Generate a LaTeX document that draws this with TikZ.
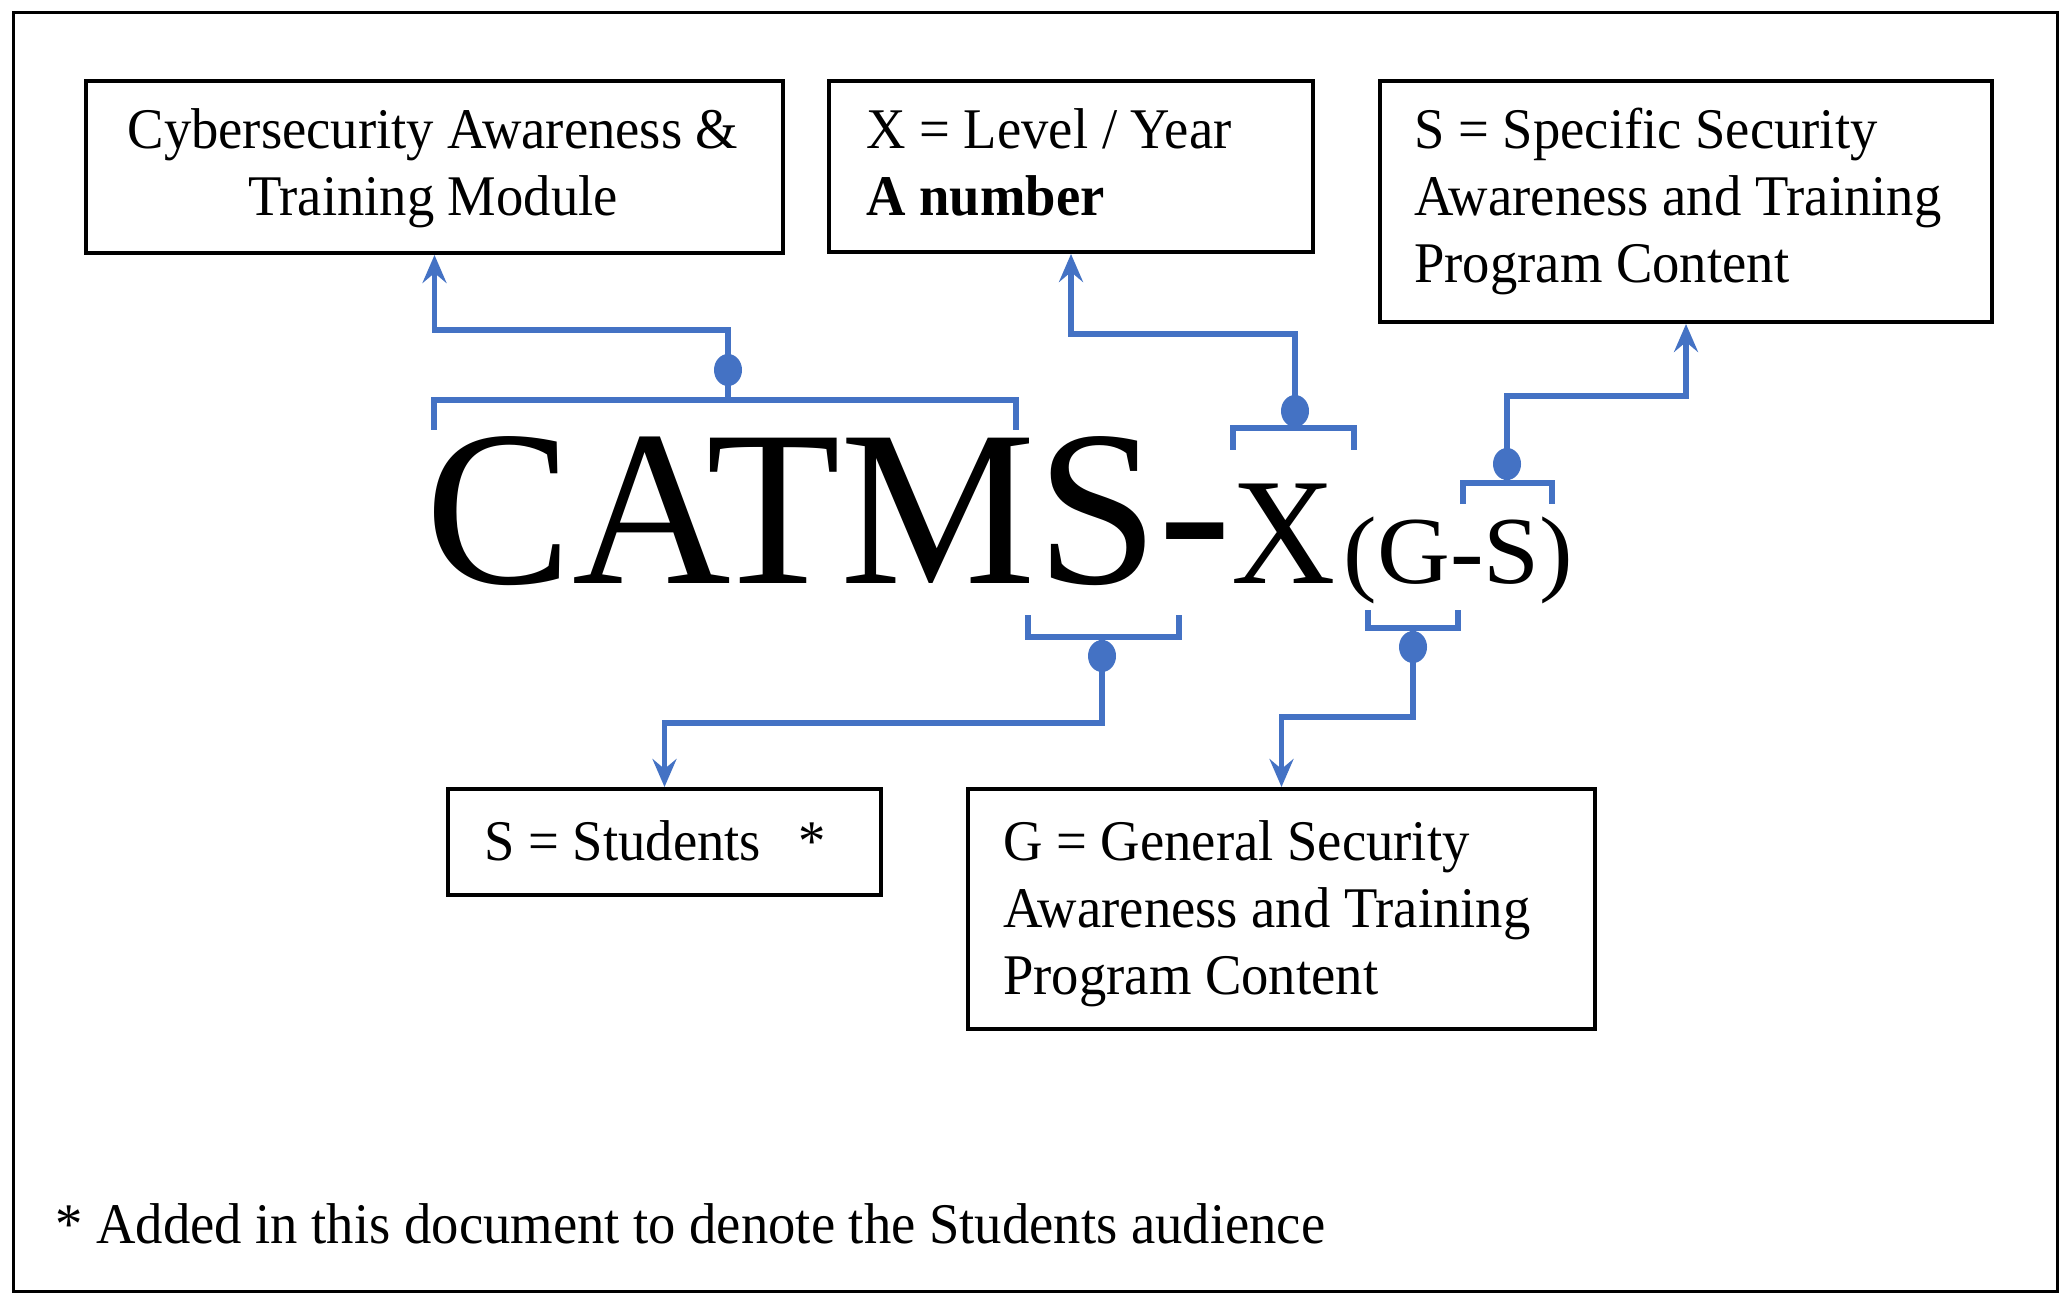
\documentclass[tikz,border=0pt]{standalone}
\usepackage{fontspec}
\setmainfont{Liberation Serif}[FakeStretch=0.95]
\newfontfamily\bigfont{Liberation Serif}[FakeStretch=0.99]
\newfontfamily\subfont{Liberation Serif}[FakeStretch=1.05]
\usetikzlibrary{arrows.meta,calc}
\definecolor{cblue}{RGB}{68,114,196}
\begin{document}
\begin{tikzpicture}[x=0.5pt,y=-0.5pt,
  boxnode/.style={draw=black, line width=2pt, inner sep=0pt, anchor=north west},
  boxtext/.style={inner sep=0pt, font=\fontsize{28.75pt}{33.5pt}\selectfont},
  brk/.style={draw=cblue, line width=2.75pt},
  conn/.style={draw=cblue, line width=2.75pt, -{Stealth[length=14pt,width=12pt,inset=5pt]}},
  dotmark/.style={fill=cblue}]
\useasboundingbox (0,0) rectangle (2070,1304);
\fill[white] (0,0) rectangle (2070,1304);
\draw[line width=1.5pt] (13,13) rectangle (2057,1291);

% boxes
\node[boxnode, minimum width=348.5pt, minimum height=86pt] (b1) at (84,79) {};
\node[boxnode, minimum width=242pt, minimum height=85.5pt] (b2) at (827,79) {};
\node[boxnode, minimum width=306pt, minimum height=120.5pt] (b3) at (1378,79) {};
\node[boxnode, minimum width=216.5pt, minimum height=53pt] (b4) at (446,787) {};
\node[boxnode, minimum width=313.5pt, minimum height=120pt] (b5) at (966,787) {};

% box texts
\node[boxtext, anchor=north, align=center] (t1) at (433,101) {\strut Cybersecurity Awareness \&\\Training Module};
\node[boxtext, anchor=north west, align=left] (t2) at (866,101) {\strut X = Level / Year\\\textbf{A number}};
\node[boxtext, anchor=north west, align=left] (t3) at (1414,101) {\strut S = Specific Security\\Awareness and Training\\Program Content};
\node[boxtext, anchor=north west, align=left] (t4) at (484,813) {\strut S = Students\hspace{0.65em}*};
\node[boxtext, anchor=north west, align=left] (t5) at (1003,813) {\strut G = General Security\\Awareness and Training\\Program Content};
\node[boxtext, anchor=north west, align=left] (t6) at (55,1196) {\strut * Added in this document to denote the Students audience};

% title
\node[anchor=base west, inner sep=0pt] (title) at (425,583) {{\bigfont\fontsize{111pt}{111pt}\selectfont CATMS-}{\fontsize{76pt}{76pt}\selectfont X}\kern4pt{\subfont\fontsize{48pt}{48pt}\selectfont (G-S)}};

% bracket A -> box 1
\coordinate (bA) at (728,400);
\draw[brk] (434,430) -- (434,400) -- (1016,400) -- (1016,430);
\fill[dotmark] (728,370) ellipse [x radius=7pt, y radius=8pt];
\draw[conn] (bA) |- ($(b1.south)+(0,75)$) -- (b1.south);

% bracket B -> box 2
\coordinate (bB) at (1295,428);
\draw[brk] (1233,450) -- (1233,428) -- (1354,428) -- (1354,450);
\fill[dotmark] (1295,411) ellipse [x radius=7pt, y radius=8pt];
\draw[conn] (bB) |- ($(b2.south)+(0,80)$) -- (b2.south);

% bracket C -> box 3
\coordinate (bC) at (1507,483);
\draw[brk] (1463,504) -- (1463,483) -- (1552,483) -- (1552,504);
\fill[dotmark] (1507,464) ellipse [x radius=7pt, y radius=8pt];
\draw[conn] (bC) |- ($(b3.south)+(0,72)$) -- (b3.south);

% bracket D -> box 4
\coordinate (bD) at (1102,637);
\draw[brk] (1028,615) -- (1028,637) -- (1179,637) -- (1179,615);
\fill[dotmark] (1102,656) ellipse [x radius=7pt, y radius=8pt];
\draw[conn] (bD) |- ($(b4.north)+(0,-64)$) -- (b4.north);

% bracket E -> box 5
\coordinate (bE) at (1413,628);
\draw[brk] (1368,610) -- (1368,628) -- (1458,628) -- (1458,610);
\fill[dotmark] (1413,647) ellipse [x radius=7pt, y radius=8pt];
\draw[conn] (bE) |- ($(b5.north)+(0,-70)$) -- (b5.north);
\end{tikzpicture}
\end{document}
